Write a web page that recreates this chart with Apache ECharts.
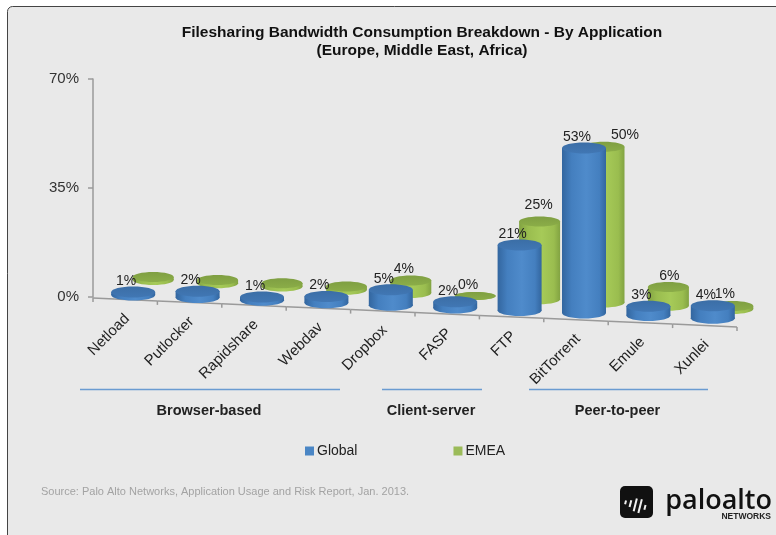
<!DOCTYPE html>
<html>
<head>
<meta charset="utf-8">
<style>html,body{margin:0;padding:0;background:#fff}#chart{width:776px;height:535px}</style>
<script src="https://cdn.jsdelivr.net/npm/echarts@6/dist/echarts.min.js"></script>
</head>
<body>
<div id="chart"></div>
<script>
// Share of filesharing bandwidth, percent
const categories = ['Netload','Putlocker','Rapidshare','Webdav','Dropbox','FASP','FTP','BitTorrent','Emule','Xunlei'];
const globalValues = [1,2,1,2,5,2,21,53,3,4];
const emeaValues = [1,1,1,1,4,0,25,50,6,1];
const emeaLabelled = [false,false,false,false,true,true,true,true,true,true];
const yTicks = [0,35,70];
const groupNames = ['Browser-based','Client-server','Peer-to-peer'];

const FONT = '"Liberation Sans", Arial, sans-serif';

// The floor of the fake 3D scene slopes downward to the right.
const axisFloor = x => 1 + 0.045 * (x - 93);
const globalFloor = x => -2 + 0.040 * (x - 133);
const emeaFloor = x => -17 + 0.050 * (x - 153);

// Label nudges for EMEA, keyed by category index.
const emeaLabelShift = {4:[-7,-11],5:[-7,-11],6:[-1,-16],7:[21,-12],8:[1,-11],9:[-8,-12]};

function hGrad(edge, mid, rim) {
  return {type:'linear',x:0,y:0,x2:1,y2:0,colorStops:[
    {offset:0,color:edge},{offset:0.22,color:mid},{offset:0.55,color:rim},{offset:0.85,color:mid},{offset:1,color:edge}]};
}
function vGrad(a, b) {
  return {type:'linear',x:0,y:0,x2:0,y2:1,colorStops:[{offset:0,color:a},{offset:1,color:b}]};
}

function cylinder(cx, base, top, rx, ry, pal) {
  const side = hGrad(pal.edge, pal.mid, pal.rim);
  return [
    {type:'ellipse',shape:{cx:cx,cy:base,rx:rx,ry:ry},style:{fill:side}},
    {type:'rect',shape:{x:cx-rx,y:top,width:rx*2,height:Math.max(base-top,0)},style:{fill:side}},
    {type:'ellipse',shape:{cx:cx,cy:top,rx:rx,ry:ry},style:{fill:vGrad(pal.topA,pal.topB)}}
  ];
}

const bluePal = {edge:'#33669f',mid:'#447fbf',rim:'#4f8bcb',topA:'#3b6ea6',topB:'#4177b4'};
const greenPal = {edge:'#82a342',mid:'#9abd4f',rim:'#a6ca58',topA:'#7f9f42',topB:'#8bad48'};

function renderGlobal(params, api) {
  const i = api.value(0), v = api.value(1);
  const p = api.coord([i, v]);
  const cx = p[0] + 8;
  const shift = globalFloor(cx);
  const top = p[1] + shift, base = api.coord([i, 0])[1] + shift;
  const children = cylinder(cx, base, top, 22, 5.5, bluePal);
  children.push({type:'text',z2:50,style:{text:v+'%',x:cx-7,y:top-11,align:'center',verticalAlign:'middle',
    font:'14px '+FONT,fill:'#222'}});
  return {type:'group',children};
}

function renderEmea(params, api) {
  const i = api.value(0), v = api.value(1);
  const p = api.coord([i, v]);
  const cx = p[0] + 28;
  const shift = emeaFloor(cx);
  const top = p[1] + shift, base = api.coord([i, 0])[1] + shift;
  const ry = v === 0 ? 4 : 5;
  const children = cylinder(cx, base, top, 20.5, ry, greenPal);
  if (emeaLabelled[i]) {
    const s = emeaLabelShift[i];
    children.push({type:'text',z2:50,style:{text:v+'%',x:cx+s[0],y:top+s[1],align:'center',verticalAlign:'middle',
      font:'14px '+FONT,fill:'#222'}});
  }
  return {type:'group',children};
}

// Sloped category axis: one segment, one tick and one slanted label per category.
function renderAxis(params, api) {
  const i = api.value(0);
  const c = api.coord([i, 0]);
  const half = api.size([1, 0])[0] / 2;
  const y0 = api.coord([0, 0])[1];
  const x1 = c[0] - half, x2 = c[0] + half;
  const y1 = y0 + axisFloor(x1), y2 = y0 + axisFloor(x2);
  const stroke = {stroke:'#9a9a9a',lineWidth:1.5};
  const children = [
    {type:'line',shape:{x1,y1,x2,y2},style:stroke},
    {type:'line',shape:{x1:x2,y1:y2,x2:x2,y2:y2+4},style:stroke},
    {type:'text',rotation:Math.PI/4,x:c[0]+2,y:y0+axisFloor(c[0])+17,
      style:{text:categories[i],x:0,y:0,align:'right',verticalAlign:'middle',font:'15px '+FONT,fill:'#222'}}
  ];
  if (i === 0) children.push({type:'line',shape:{x1,y1,x2:x1,y2:y1+4},style:stroke});
  return {type:'group',children};
}

// Company mark in the lower right corner.
function logo() {
  const bars = [[5,4],[10,7],[15,13],[20,14],[25,5]];
  const els = [{type:'rect',shape:{x:620,y:486,width:33,height:32,r:5},style:{fill:'#111'}}];
  bars.forEach(b => els.push({type:'line',rotation:-0.25,originX:636,originY:502,
    shape:{x1:620+b[0]+1,y1:505-b[1]/2,x2:620+b[0]+1,y2:505+b[1]/2},style:{stroke:'#eee',lineWidth:2}}));
  els.push({type:'text',style:{text:'paloalto',x:772,y:501,align:'right',verticalAlign:'middle',font:'600 27px "Open Sans", sans-serif',fill:'#111'}});
  els.push({type:'text',style:{text:'NETWORKS',x:771,y:517,align:'right',verticalAlign:'middle',font:'bold 8.5px '+FONT,fill:'#222'}});
  return els;
}

const groupSpans = [[80,340],[382,482],[529,708]];
const graphics = [
  {type:'rect',z:-10,shape:{x:7.5,y:6.5,width:900,height:700,r:5},style:{fill:'#e9e9e9',stroke:'#444',lineWidth:1}}
];
groupNames.forEach((name, k) => {
  const s = groupSpans[k];
  graphics.push({type:'line',shape:{x1:s[0],y1:389.5,x2:s[1],y2:389.5},style:{stroke:'#6a9bd1',lineWidth:1.5}});
  graphics.push({type:'text',style:{text:name,x:(s[0]+s[1])/2 - 1,y:411,align:'center',verticalAlign:'middle',font:'bold 14.5px '+FONT,fill:'#222'}});
});
graphics.push({type:'text',style:{text:'Source: Palo Alto Networks, Application Usage and Risk Report, Jan. 2013.',x:41,y:492,align:'left',verticalAlign:'middle',font:'11px '+FONT,fill:'#a3a3a3'}});
logo().forEach(e => graphics.push(e));

const chart = echarts.init(document.getElementById('chart'), null, {renderer:'canvas'});
chart.setOption({
  animation:false,
  backgroundColor:'#fff',
  textStyle:{fontFamily:FONT},
  title:{text:'Filesharing Bandwidth Consumption Breakdown - By Application\n(Europe, Middle East, Africa)',
    left:417,top:19,textAlign:'center',
    textStyle:{fontFamily:FONT,fontSize:15.5,fontWeight:'bold',color:'#111',lineHeight:18}},
  legend:{data:['Global','EMEA'],left:300,top:439,icon:'rect',itemWidth:9,itemHeight:9,itemGap:96,
    textStyle:{fontFamily:FONT,fontSize:14,color:'#222',padding:[0,0,0,-2]}},
  grid:{left:93,top:79,width:644,height:218,containLabel:false},
  xAxis:{type:'category',data:categories,axisLine:{show:false},axisTick:{show:false},axisLabel:{show:false}},
  yAxis:{type:'value',min:yTicks[0],max:yTicks[2],interval:yTicks[1],
    axisLine:{show:true,lineStyle:{color:'#9a9a9a',width:1.5}},
    axisTick:{show:true,length:5,lineStyle:{color:'#9a9a9a',width:1.5}},
    axisLabel:{formatter:'{value}%',fontFamily:FONT,fontSize:15,color:'#333',margin:14,padding:[5,0,0,0]},
    splitLine:{show:false}},
  graphic:graphics,
  series:[
    {type:'custom',name:'Axis',z:1,silent:true,clip:false,renderItem:renderAxis,
      encode:{x:0,y:1},data:categories.map((c,i)=>[i,0])},
    {type:'custom',name:'EMEA',z:2,clip:false,renderItem:renderEmea,itemStyle:{color:'#9bbb59'},
      encode:{x:0,y:1},data:emeaValues.map((v,i)=>[i,v])},
    {type:'custom',name:'Global',z:3,clip:false,renderItem:renderGlobal,itemStyle:{color:'#4a86c5'},
      encode:{x:0,y:1},data:globalValues.map((v,i)=>[i,v])}
  ]
});
</script>
</body>
</html>
